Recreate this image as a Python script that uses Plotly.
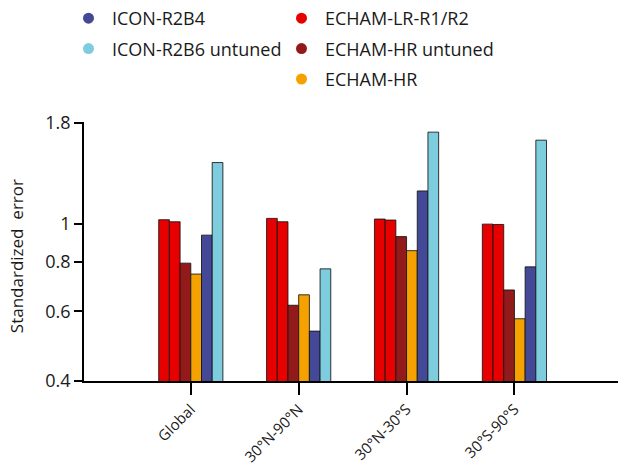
import math
import plotly.graph_objects as go

regions = ["Global", "30°N-90°N", "30°N-30°S", "30°S-90°S"]
series_names = ["ECHAM-LR-R1", "ECHAM-LR-R2", "ECHAM-HR untuned", "ECHAM-HR", "ICON-R2B4", "ICON-R2B6 untuned"]
echam_lr_r1 = [1.024, 1.032, 1.028, 0.998]
echam_lr_r2 = [1.012, 1.012, 1.022, 0.996]
echam_hr_untuned = [0.795, 0.622, 0.928, 0.680]
echam_hr = [0.746, 0.661, 0.855, 0.575]
icon_r2b4 = [0.936, 0.535, 1.211, 0.778]
icon_r2b6_untuned = [1.429, 0.769, 1.706, 1.628]

y_ticks = [0.4, 0.6, 0.8, 1, 1.8]
y_tick_labels = ["0.4", "0.6", "0.8", "1", "1.8"]

RED = "#E60000"
DARKRED = "#931A1A"
ORANGE = "#F5A100"
BLUE = "#434897"
LIGHTBLUE = "#7ECDDF"

values = [echam_lr_r1, echam_lr_r2, echam_hr_untuned, echam_hr, icon_r2b4, icon_r2b6_untuned]
colors = [RED, RED, DARKRED, ORANGE, BLUE, LIGHTBLUE]

FONT = "Open Sans"
TXT = "#1a1a1a"
fig = go.Figure()
for name, vals, col in zip(series_names, values, colors):
    fig.add_trace(go.Bar(
        x=regions, y=vals, name=name, showlegend=False,
        marker=dict(color=col, line=dict(color="rgba(20,20,20,0.85)", width=1)),
    ))

# legend-only entries (circle symbols)
legend_entries = [
    ("ICON-R2B4", BLUE, "legend"),
    ("ICON-R2B6 untuned", LIGHTBLUE, "legend"),
    ("ECHAM-LR-R1/R2", RED, "legend2"),
    ("ECHAM-HR untuned", DARKRED, "legend2"),
    ("ECHAM-HR", ORANGE, "legend2"),
]
for i, (nm, col, lg) in enumerate(legend_entries):
    fig.add_trace(go.Scatter(
        x=[regions[0]], y=[None], mode="markers", name=nm, legend=lg,
        legendgroup="g%d" % i,
        marker=dict(symbol="circle", size=11, color=col),
    ))

legend_common = dict(
    font=dict(family=FONT, size=18, color=TXT),
    bgcolor="rgba(0,0,0,0)", borderwidth=0,
    traceorder="grouped", tracegroupgap=4,
    itemwidth=37,
    xanchor="left", yanchor="top", orientation="v",
    xref="container", yref="container",
)
fig.update_layout(
    legend=dict(x=65 / 618, y=1, **legend_common),
    legend2=dict(x=278 / 618, y=1, **legend_common),
)

fig.add_annotation(
    text="Standardized  error", textangle=-90,
    xref="paper", yref="paper", x=-(84 - 16) / 534, y=(380.7 - 256) / 258.7,
    xanchor="center", yanchor="middle", showarrow=False,
    font=dict(family=FONT, size=17, color=TXT),
)

fig.update_layout(
    width=618, height=467,
    margin=dict(l=84, r=0, t=122, b=86, autoexpand=False),
    paper_bgcolor="white", plot_bgcolor="white",
    barmode="group", bargap=0.405, bargroupgap=0,
    font=dict(family=FONT, size=17, color=TXT),
    xaxis=dict(
        type="category", range=[-0.99, 3.96],
        showline=True, linecolor="black", linewidth=1.5,
        ticks="outside", ticklen=12, tickwidth=2, tickcolor="black",
        tickangle=-45, tickfont=dict(family=FONT, size=15, color=TXT),
        showgrid=False, zeroline=False,
    ),
    yaxis=dict(
        type="log", range=[math.log10(0.4), math.log10(1.81)],
        tickvals=y_ticks, ticktext=y_tick_labels,
        showline=True, linecolor="black", linewidth=1.5,
        ticks="outside", ticklen=8, tickwidth=1.5, tickcolor="black",
        tickfont=dict(family=FONT, size=18, color=TXT),
        showgrid=False, zeroline=False,
    ),
)

fig.write_html("out.html", config={"displayModeBar": False},
               post_script="document.body.style.margin='0';")
